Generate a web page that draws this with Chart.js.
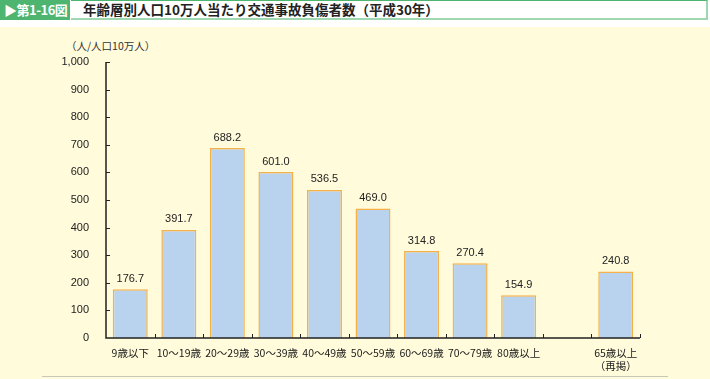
<!DOCTYPE html>
<html><head><meta charset="utf-8">
<script src="https://cdn.jsdelivr.net/npm/chart.js@4.4.1/dist/chart.umd.min.js"></script>
<style>
html,body{margin:0;padding:0;width:710px;height:379px;overflow:hidden;background:#fff;font-family:"Noto Sans CJK JP","Noto Sans",sans-serif;}
#bg{position:absolute;left:0;top:27px;width:710px;height:352px;background:#FFFBDB;}
#tag{position:absolute;left:0;top:0;width:70px;height:20px;background:#4DB56F;color:#fff;font-size:13px;font-weight:bold;line-height:20px;padding-left:4px;box-sizing:border-box;letter-spacing:-0.5px;}
#titlebox{position:absolute;left:71px;top:0;width:637px;height:20px;background:#fff;border-top:1.5px solid #4DB56F;border-bottom:2px solid #9FD8B0;border-right:2px solid #9FD8B0;box-sizing:border-box;}
#title{position:absolute;left:83px;top:0;height:20px;line-height:19px;font-size:13.5px;font-weight:bold;color:#222;}
#unit{position:absolute;left:66px;top:38px;font-size:10.5px;color:#333;}
#bottomline{position:absolute;left:42px;top:376px;width:626px;height:1px;background:#C8C8B8;}
#c{position:absolute;left:0;top:0;}
</style></head><body>
<div id="bg"></div>
<div id="tag">▶第1-16図</div>
<div id="titlebox"></div>
<div id="title">年齢層別人口10万人当たり交通事故負傷者数（平成30年）</div>
<div id="unit">（人/人口10万人）</div>
<div id="bottomline"></div>
<canvas id="c" width="710" height="379"></canvas>
<script>
const categories = ["9歳以下","10～19歳","20～29歳","30～39歳","40～49歳","50～59歳","60～69歳","70～79歳","80歳以上","",["65歳以上","（再掲）"]];
const values = [176.7,391.7,688.2,601.0,536.5,469.0,314.8,270.4,154.9,null,240.8];
const yMin = 0, yMax = 1000, yStep = 100;

const decor = {
  id:'decor',
  afterDatasetsDraw(chart){
    const ctx = chart.ctx, x = chart.scales.x, y = chart.scales.y, ca = chart.chartArea;
    ctx.save();
    ctx.strokeStyle = '#222'; ctx.lineWidth = 1;
    for(let v=yMin+yStep; v<=yMax; v+=yStep){
      const py = Math.round(y.getPixelForValue(v))+0.5;
      ctx.beginPath(); ctx.moveTo(ca.left, py); ctx.lineTo(ca.left+4, py); ctx.stroke();
    }
    const n = categories.length;
    const step = x.getPixelForValue(1)-x.getPixelForValue(0);
    for(let i=1;i<=n;i++){
      const px = Math.round(x.getPixelForValue(i-1)+step/2)+0.5;
      ctx.beginPath(); ctx.moveTo(px, ca.bottom); ctx.lineTo(px, ca.bottom-4); ctx.stroke();
    }
    ctx.lineWidth = 1.5;
    ctx.beginPath(); ctx.moveTo(ca.left, ca.top); ctx.lineTo(ca.left, ca.bottom); ctx.lineTo(ca.right, ca.bottom); ctx.stroke();
    ctx.fillStyle = '#222';
    ctx.font = '11px "Liberation Sans", Arial, sans-serif';
    ctx.textAlign = 'center'; ctx.textBaseline = 'bottom';
    const meta = chart.getDatasetMeta(0);
    meta.data.forEach((bar,i)=>{
      if(values[i]==null) return;
      ctx.fillText(values[i].toFixed(1), bar.x, bar.y-5);
    });
    ctx.restore();
  }
};

new Chart(document.getElementById('c'),{
  type:'bar',
  data:{labels:categories,datasets:[{data:values,backgroundColor:'#B9D3EE',borderColor:'#F5B04A',borderWidth:1.5,categoryPercentage:1,barPercentage:0.72}]},
  options:{
    responsive:false,animation:false,
    layout:{padding:{left:0,right:70,top:62,bottom:0}},
    plugins:{legend:{display:false},tooltip:{enabled:false}},
    scales:{
      x:{grid:{display:false},border:{display:false},
         ticks:{color:'#1a1a1a',font:{family:'"Noto Sans CJK JP"',size:10.5},maxRotation:0,autoSkip:false,padding:1},
         afterFit(s){s.height=41;}},
      y:{min:yMin,max:yMax,grid:{display:false},border:{display:false},
         ticks:{stepSize:yStep,color:'#222',font:{family:'"Liberation Sans", Arial',size:11},padding:9,
           callback:v=>v.toLocaleString('en-US')},
         afterFit(s){s.width=106;}}
    }
  },
  plugins:[decor]
});
</script>
</body></html>
